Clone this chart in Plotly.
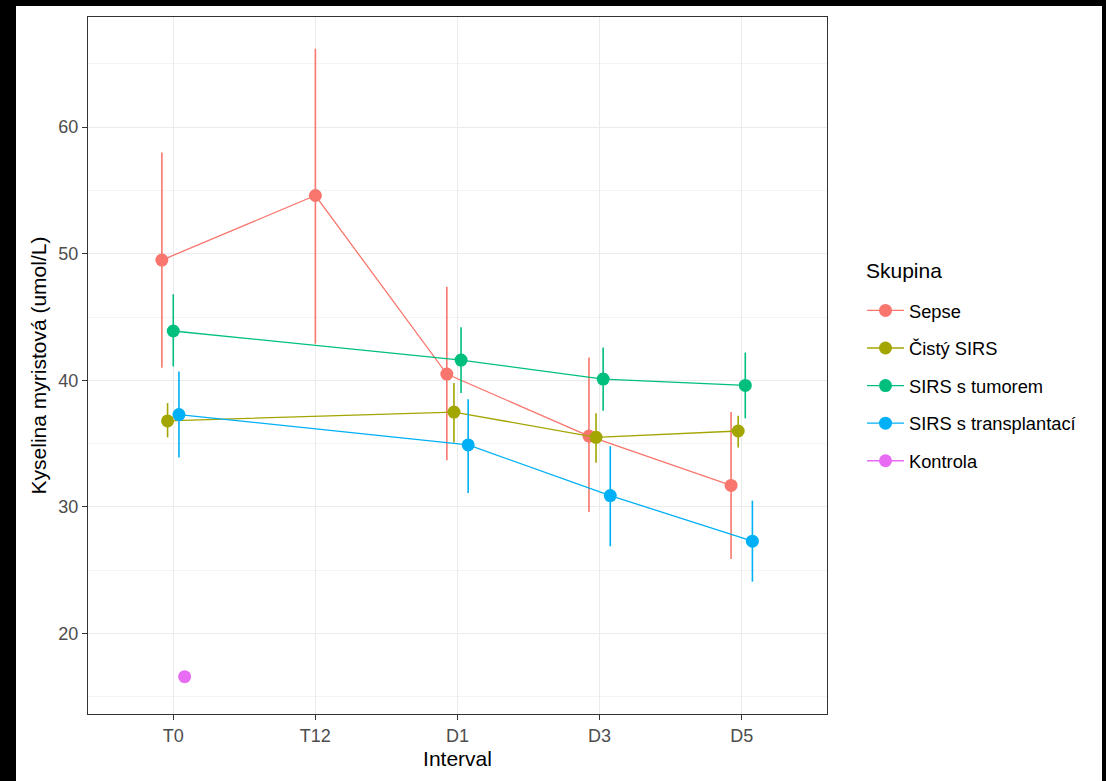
import plotly.graph_objects as go

intervals = ["T0", "T12", "D1", "D3", "D5"]
groups = ["Sepse", "Čistý SIRS", "SIRS s tumorem", "SIRS s transplantací", "Kontrola"]
colors = ["#F8766D", "#A3A500", "#00BF7D", "#00B0F6", "#E76BF3"]

# mean, lower, upper per interval (None = missing)
sepse_mean = [49.5, 54.6, 40.5, 35.6, 31.7]
sepse_lo = [41.0, 42.9, 33.7, 29.6, 25.9]
sepse_hi = [58.0, 66.2, 47.4, 41.8, 37.5]

cisty_mean = [36.8, None, 37.5, 35.5, 36.0]
cisty_lo = [35.5, None, 35.1, 33.5, 34.7]
cisty_hi = [38.2, None, 39.8, 37.4, 37.2]

tumor_mean = [43.9, None, 41.6, 40.1, 39.6]
tumor_lo = [41.1, None, 39.0, 37.6, 37.0]
tumor_hi = [46.8, None, 44.2, 42.6, 42.2]

transpl_mean = [37.3, None, 34.9, 30.9, 27.3]
transpl_lo = [33.9, None, 31.1, 26.9, 24.1]
transpl_hi = [40.7, None, 38.5, 34.8, 30.5]

kontrola_mean = [16.6, None, None, None, None]
kontrola_lo = [16.2, None, None, None, None]
kontrola_hi = [17.0, None, None, None, None]

means = [sepse_mean, cisty_mean, tumor_mean, transpl_mean, kontrola_mean]
los = [sepse_lo, cisty_lo, tumor_lo, transpl_lo, kontrola_lo]
his = [sepse_hi, cisty_hi, tumor_hi, transpl_hi, kontrola_hi]

DODGE = 0.2

# dodge positions like ggplot position_dodge
present = [[gi for gi in range(len(groups)) if means[gi][ci] is not None] for ci in range(len(intervals))]

fig = go.Figure()
for gi, g in enumerate(groups):
    xs, ys, ep, em = [], [], [], []
    for ci in range(len(intervals)):
        m = means[gi][ci]
        if m is None:
            continue
        n = len(present[ci])
        rank = present[ci].index(gi)
        off = (rank - (n - 1) / 2) * DODGE / n
        xs.append(ci + off)
        ys.append(m)
        ep.append(his[gi][ci] - m)
        em.append(m - los[gi][ci])
    fig.add_trace(go.Scatter(
        x=xs, y=ys, name=g, mode="lines+markers", legendgroup=g,
        line=dict(color=colors[gi], width=1.3),
        marker=dict(color=colors[gi], size=13),
        error_y=dict(type="data", symmetric=False, array=ep, arrayminus=em,
                     width=0, thickness=1.6, color=colors[gi]),
    ))

W, H = 1106, 781
L, R, T, B = 88, 827, 17, 714
pw, ph = R - L, B - T

def px(x):
    return (x - L) / pw

def py(y):
    return (B - y) / ph

# black frame strips of the screenshot
for (x0, y0, x1, y1) in [(0, 0, 16, H), (0, 0, W, 6), (1102, 0, W, H)]:
    fig.add_shape(type="rect", xref="paper", yref="paper",
                  x0=px(x0), x1=px(x1), y0=py(y1), y1=py(y0),
                  fillcolor="black", line=dict(width=0), layer="above")

font = "Liberation Sans, Arial, sans-serif"

# legend title as annotation for exact spacing
fig.add_annotation(text="Skupina", xref="paper", yref="paper", x=px(864), y=py(270),
                   xanchor="left", yanchor="middle", showarrow=False,
                   font=dict(size=21, color="#000000", family=font))

fig.update_layout(
    width=W, height=H,
    margin=dict(l=L, r=W - R, t=T, b=H - B),
    paper_bgcolor="white", plot_bgcolor="white",
    font=dict(family=font, color="#000000"),
    showlegend=True,
    legend=dict(
        font=dict(size=18.3, color="#000000"),
        x=px(862), xanchor="left", y=py(292), yanchor="top",
        tracegroupgap=10.8, traceorder="grouped", itemwidth=37,
        bgcolor="rgba(0,0,0,0)",
    ),
    xaxis=dict(
        range=[-0.6, 4.6], tickmode="array", tickvals=list(range(len(intervals))),
        ticktext=intervals, showgrid=True, gridcolor="#EBEBEB", gridwidth=1.3,
        showline=True, mirror=True, linecolor="#333333", linewidth=1,
        ticks="outside", ticklen=5, tickcolor="#333333", tickwidth=1,
        tickfont=dict(size=18, color="#4D4D4D"), zeroline=False,
        title=dict(text="Interval", font=dict(size=21, color="#000000"), standoff=6),
    ),
    yaxis=dict(
        range=[13.65, 68.7], tickmode="array", tickvals=[20, 30, 40, 50, 60],
        showgrid=True, gridcolor="#EBEBEB", gridwidth=1.3,
        minor=dict(tickmode="array", tickvals=[15, 25, 35, 45, 55, 65], showgrid=True,
                   gridcolor="#F4F4F4", gridwidth=1, ticks=""),
        showline=True, mirror=True, linecolor="#333333", linewidth=1,
        ticks="outside", ticklen=5, tickcolor="#333333", tickwidth=1,
        tickfont=dict(size=18, color="#4D4D4D"), zeroline=False,
        title=dict(text="Kyselina myristová (umol/L)", font=dict(size=21, color="#000000"), standoff=6),
    ),
)

fig.write_html("out.html", config={"displayModeBar": False},
               post_script="document.body.style.margin='0';document.body.style.padding='0';")
